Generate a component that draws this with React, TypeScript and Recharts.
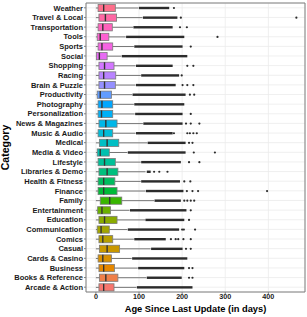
import React from 'react';
import { ComposedChart, Bar, XAxis, YAxis, CartesianGrid, ReferenceArea } from 'recharts';

// top to bottom, as drawn
const categories = [
  'Weather', 'Travel & Local', 'Transportation', 'Tools', 'Sports', 'Social', 'Shopping', 'Racing',
  'Brain & Puzzle', 'Productivity', 'Photography', 'Personalization', 'News & Magazines', 'Music & Audio',
  'Medical', 'Media & Video', 'Lifestyle', 'Libraries & Demo', 'Health & Fitness', 'Finance', 'Family',
  'Entertainment', 'Education', 'Communication', 'Comics', 'Casual', 'Cards & Casino', 'Business',
  'Books & Reference', 'Arcade & Action'
];

const whiskerLow = categories.map(() => 0);
const q1 = [5, 7, 5, 3, 5, 1, 7, 7, 7, 3, 5, 5, 7, 5, 8, 3, 5, 7, 5, 5, 10, 4, 7, 3, 7, 8, 5, 7, 8, 7];
const median = [18, 22, 16, 10, 14, 8, 20, 18, 20, 10, 14, 13, 23, 18, 26, 10, 20, 26, 18, 18, 32, 14, 20, 12, 16, 26, 16, 18, 23, 18];
const q3 = [45, 48, 38, 30, 39, 26, 42, 46, 45, 36, 39, 39, 49, 39, 53, 31, 45, 51, 44, 49, 60, 34, 49, 31, 39, 55, 36, 43, 51, 42];
const whiskerHigh = [99, 108, 86, 69, 88, 59, 92, 104, 92, 84, 88, 90, 109, 92, 119, 73, 104, 115, 104, 115, 135, 78, 115, 73, 88, 127, 83, 97, 117, 94];

// dense run of outliers (reads as a solid dark stroke) and the lone ones past it
const denseStart = [100, 109, 87, 70, 89, 60, 93, 105, 93, 85, 89, 91, 110, 93, 120, 74, 105, 118, 105, 116, 136, 79, 115, 74, 89, 128, 84, 98, 118, 95];
const denseEnd = [170, 189, 178, 205, 201, 212, 178, 193, 185, 208, 205, 201, 201, 178, 208, 208, 197, 127, 195, 203, 197, 210, 205, 193, 162, 201, 212, 205, 199, 224];
const loneOutliers: number[][] = [
  [181], [197, 465], [195, 211], [282], [220], [], [212, 226], [199], [201, 212, 226], [218, 228],
  [], [220], [209, 220, 240], [181, 212, 218, 226, 234], [216, 224], [227, 276], [216, 240], [135, 147, 166], [205, 219], [211, 224, 237, 397],
  [205, 212, 220, 228], [220], [216], [200, 204, 230], [174, 185, 191, 203, 220], [209, 220], [], [216, 224], [216, 224], []
];

const xTicks = [0, 100, 200, 300, 400];
const xDomain: [number, number] = [-23, 485];
const FRAME: [number, number] = [0, 400];

// ggplot's hue palette (hcl with c=100, l=65)
function hcl(h: number, c: number, l: number) {
  const hr = (h * Math.PI) / 180;
  const U = c * Math.cos(hr);
  const V = c * Math.sin(hr);
  const Xn = 95.047, Yn = 100, Zn = 108.883;
  const den = Xn + 15 * Yn + 3 * Zn;
  const un = (4 * Xn) / den, vn = (9 * Yn) / den;
  const Y = Yn * Math.pow((l + 16) / 116, 3);
  const u = U / (13 * l) + un;
  const v = V / (13 * l) + vn;
  const X = (9 * Y * u) / (4 * v);
  const Z = (Y * (12 - 3 * u - 20 * v)) / (4 * v);
  const x = X / 100, y = Y / 100, z = Z / 100;
  const lin = [
    3.240479 * x - 1.53715 * y - 0.498535 * z,
    -0.969256 * x + 1.875992 * y + 0.041556 * z,
    0.055648 * x - 0.204043 * y + 1.057311 * z
  ];
  const hex = lin
    .map(ch => {
      const g = ch <= 0.0031308 ? 12.92 * ch : 1.055 * Math.pow(ch, 1 / 2.4) - 0.055;
      const n = Math.round(Math.min(1, Math.max(0, g)) * 255);
      return n.toString(16).padStart(2, '0');
    })
    .join('');
  return '#' + hex;
}

const n = categories.length;
const rows = categories.map((cat, i) => ({
  cat,
  frame: FRAME,
  lo: whiskerLow[i],
  q1: q1[i],
  med: median[i],
  q3: q3[i],
  hi: whiskerHigh[i],
  d0: denseStart[i],
  d1: denseEnd[i],
  lone: loneOutliers[i],
  fill: hcl(15 + 12 * (n - 1 - i), 100, 65)
}));

const BoxShape = (props: any) => {
  const { x, y, width, height, payload } = props;
  const px = (v: number) => x + ((v - FRAME[0]) / (FRAME[1] - FRAME[0])) * width;
  const cy = y + height / 2;
  const bh = height * 0.72;
  return (
    <g>
      <line x1={px(payload.lo)} x2={px(payload.q1)} y1={cy} y2={cy} stroke="#555" strokeWidth={0.8} />
      <line x1={px(payload.q3)} x2={px(payload.hi)} y1={cy} y2={cy} stroke="#555" strokeWidth={0.8} />
      <rect
        x={px(payload.q1)}
        y={cy - bh / 2}
        width={px(payload.q3) - px(payload.q1)}
        height={bh}
        fill={payload.fill}
        stroke="#7a7a7a"
        strokeWidth={0.8}
      />
      <line x1={px(payload.med)} x2={px(payload.med)} y1={cy - bh / 2} y2={cy + bh / 2} stroke="#333" strokeWidth={1.4} />
      <rect x={px(payload.d0)} y={cy - 1.2} width={px(payload.d1) - px(payload.d0)} height={2.4} fill="#2b2b2b" />
      {payload.lone.map((v: number, k: number) => (
        <circle key={k} cx={px(v)} cy={cy} r={1.1} fill="#2b2b2b" />
      ))}
    </g>
  );
};

const YTick = (props: any) => {
  const { x, y, payload } = props;
  return (
    <text x={x} y={y} dy={2.7} textAnchor="end" fontSize={7.5} fontWeight="bold" fill="#1a1a1a" fontFamily="Liberation Sans, Arial, sans-serif">
      {payload.value}
    </text>
  );
};

const XTick = (props: any) => {
  const { x, y, payload } = props;
  return (
    <text x={x} y={y} dy={5.2} textAnchor="middle" fontSize={7.2} fontWeight="bold" fill="#1a1a1a" fontFamily="Liberation Sans, Arial, sans-serif">
      {payload.value}
    </text>
  );
};

export default function App() {
  return (
    <div style={{ width: 307, height: 317 }}>
      <style>{'body{margin:0;background:#fff}'}</style>
      <ComposedChart
        layout="vertical"
        width={307}
        height={317}
        data={rows}
        margin={{ top: 3, right: 2, bottom: 0, left: 0 }}
        barCategoryGap={0}
      >
        <CartesianGrid stroke="#ebebeb" strokeWidth={0.8} />
        <XAxis
          type="number"
          domain={xDomain}
          ticks={xTicks}
          allowDataOverflow
          height={25}
          tickSize={2}
          tickMargin={0}
          axisLine={false}
          tickLine={{ stroke: '#7f7f7f' }}
          tick={<XTick />}
          label={{
            value: 'Age Since Last Update (in days)',
            position: 'insideBottom',
            offset: 5,
            style: { fontSize: 9.3, fontWeight: 'bold', fill: '#000', fontFamily: 'Liberation Sans, Arial, sans-serif' }
          }}
        />
        <YAxis
          type="category"
          dataKey="cat"
          width={86}
          interval={0}
          tickSize={2}
          tickMargin={1}
          axisLine={false}
          tickLine={{ stroke: '#7f7f7f' }}
          tick={<YTick />}
          label={{
            value: 'Category',
            angle: -90,
            position: 'insideLeft',
            offset: 5.5,
            style: { textAnchor: 'middle', fontSize: 10.5, fontWeight: 'bold', fill: '#000', fontFamily: 'Liberation Sans, Arial, sans-serif' }
          }}
        />
        <Bar dataKey="frame" shape={<BoxShape />} isAnimationActive={false} />
        <ReferenceArea x1={xDomain[0]} x2={xDomain[1]} fill="none" stroke="#7f7f7f" strokeWidth={1} ifOverflow="visible" />
      </ComposedChart>
    </div>
  );
}
